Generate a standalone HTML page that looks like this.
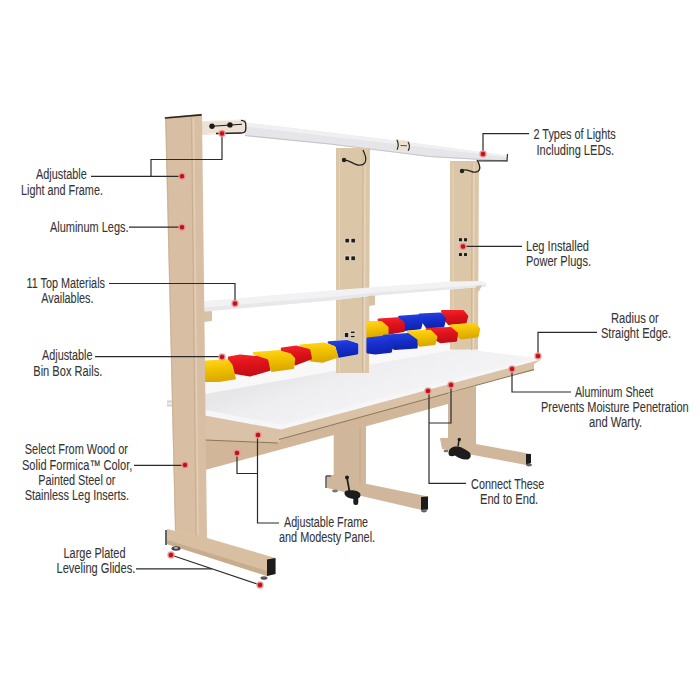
<!DOCTYPE html>
<html><head><meta charset="utf-8">
<style>
html,body{margin:0;padding:0;background:#fff;width:700px;height:700px;overflow:hidden}
svg{display:block}
text{font-family:"Liberation Sans",sans-serif;font-size:14px;fill:#353535;stroke:#353535;stroke-width:0.1px}
</style></head><body>
<svg width="700" height="700" viewBox="0 0 700 700">
<rect width="700" height="700" fill="#fff"/>

<!-- ============ LIGHT BARS ============ -->
<g id="lights">
  <polygon points="245,122.5 330,132.5 430,145 508,155.7 508,161.5 430,157 330,144.5 245,136" fill="#e6e6ea"/>
  <polygon points="245,122.5 330,132.5 430,145 508,155.7 508,157.5 430,148 330,136.5 245,126.5" fill="#f0f0f3"/>
  <polyline points="245,135.5 330,144 430,156.5 508,161" fill="none" stroke="#c4c4ca" stroke-width="1.2"/>
  <path d="M478,160.8 L507,160.8 L507.5,154" fill="none" stroke="#333" stroke-width="1.2"/>
  <!-- connector -->
  <polygon points="396.5,139.5 410,141 410,151 396.5,150" fill="#ede2d2"/>
  <path d="M396.8,139.8 Q399.5,144.5 397,149.8" fill="none" stroke="#222" stroke-width="1.1"/>
  <path d="M408,142 Q410.8,146 408.2,150.7" fill="none" stroke="#222" stroke-width="1.1"/>
  <line x1="400.5" y1="145.5" x2="407" y2="145.8" stroke="#5a4a3a" stroke-width="1"/>
  <!-- bracket -->
  <polygon points="201,121.5 246,119.5 246,133.5 201,135" fill="#ece2d3"/>
  <path d="M209,121 L240.5,120 Q245.5,120 245.5,124.5 L245.5,128.5 Q245.5,132.8 240.5,132.8 L208.5,133.8" fill="none" stroke="#f7f3ec" stroke-width="1"/>
  <path d="M241,120.3 Q245.8,120.5 245.8,124.5 L245.8,129 Q245.8,133 241,133 L216,133.5" fill="none" stroke="#1e1e1e" stroke-width="1.3"/>
  <circle cx="212" cy="126.2" r="2.7" fill="#1a1a1a"/>
  <circle cx="230" cy="124.9" r="2.7" fill="#1a1a1a"/>
  <line x1="212" y1="126.2" x2="242" y2="124.3" stroke="#1a1a1a" stroke-width="1.1"/>
</g>

<!-- ============ WORKTOP ============ -->
<defs>
  <linearGradient id="wtg" gradientUnits="userSpaceOnUse" x1="300" y1="370" x2="320" y2="425">
    <stop offset="0" stop-color="#e7e7ea"/>
    <stop offset="0.35" stop-color="#eeeef0"/>
    <stop offset="1" stop-color="#f3f3f5"/>
  </linearGradient>
</defs>
<g id="worktop">
  <polygon points="205,376 336,349 370,342 450,327 478,325 478,351 541,358.5 541,361 281,430 205,416" fill="#f8f8f9"/>
  <polygon points="205,394 478,345.4 478,351 541,358.5 281,427 205,412" fill="url(#wtg)"/>
  <polygon points="205,410 281,424.5 541,356 541,359 281,428.5 205,414.5" fill="#f6f6f8"/>
</g>

<!-- ============ UPRIGHT LEGS (back) ============ -->
<g id="uprights">
  <!-- middle upright -->
  <polygon points="336,148 370,148 369,373 336,373" fill="#dcc6a8"/>
  <line x1="363" y1="150" x2="362.5" y2="372" stroke="#cdb597" stroke-width="1"/>
  <line x1="365" y1="150" x2="364.5" y2="372" stroke="#e8d7c0" stroke-width="1.3"/>
  <line x1="339.5" y1="150" x2="339.5" y2="372" stroke="#e4d2ba" stroke-width="1"/>
  <!-- right upright -->
  <polygon points="450,161 479,161 478,349.5 450,349.5" fill="#dcc6a8"/>
  <line x1="472" y1="163" x2="471.5" y2="350" stroke="#cdb597" stroke-width="1"/>
  <line x1="474" y1="163" x2="473.5" y2="350" stroke="#e8d7c0" stroke-width="1.3"/>
  <line x1="453" y1="163" x2="453" y2="350" stroke="#e4d2ba" stroke-width="1"/>
  <!-- plugs -->
  <g fill="#1e1a16" stroke="#efe6da" stroke-width="0.7">
    <rect x="345" y="238.3" width="4.3" height="4.6"/><rect x="351" y="238.3" width="4.3" height="4.6"/>
    <rect x="345" y="256" width="4.3" height="4.6"/><rect x="351" y="256" width="4.3" height="4.6"/>
    <rect x="344.4" y="332.6" width="4.3" height="4.8"/><rect x="350.4" y="331.1" width="4.6" height="2.3"/><rect x="350.4" y="335.4" width="4.6" height="2.3"/>
    <rect x="458.5" y="237.8" width="3.8" height="4"/><rect x="463.7" y="237.8" width="3.6" height="4"/>
    <rect x="458.5" y="252.7" width="3.8" height="3.8"/><rect x="463.7" y="252.7" width="3.6" height="3.8"/>
  </g>
  <!-- cables -->
  <path d="M363,150 C368,160 366,166 358,165 C352,164 350,160 344,160" fill="none" stroke="#222" stroke-width="1.3"/>
  <circle cx="344" cy="160" r="2.2" fill="#222"/>
  <path d="M477,160 C482,168 480,173 473,172 C468,171 466,168 462,171" fill="none" stroke="#222" stroke-width="1.3"/>
  <circle cx="462" cy="171" r="2.2" fill="#222"/>
</g>

<!-- ============ SHELVES ============ -->
<g id="shelves">
  <polygon points="204,301 336,290 370,287.5 450,281.5 481,281 486.5,283 486,286.5 370,296 336,300 204,311.5" fill="#f2f2f4"/>
  <polygon points="204,307.5 336,296.5 370,293 486,284.5 486,286.5 370,296 336,300 204,311.5" fill="#e8e8eb"/>
  <polygon points="204,311.5 212,311 212,321 204,322" fill="#d9c1a5"/>
  <polygon points="369,296 375,295.5 375,305 369,306" fill="#d9c1a5"/>
  <polygon points="476,286 482,285.5 479,291 476,292" fill="#d9c1a5"/>
</g>

<!-- ============ BINS ============ -->
<defs>
  <linearGradient id="gR" x1="0" y1="0" x2="0.15" y2="1"><stop offset="0" stop-color="#f2222a"/><stop offset="0.45" stop-color="#e0121a"/><stop offset="1" stop-color="#c40e16"/></linearGradient>
  <linearGradient id="gY" x1="0" y1="0" x2="0.15" y2="1"><stop offset="0" stop-color="#ffd41a"/><stop offset="0.45" stop-color="#f2c200"/><stop offset="1" stop-color="#dcaa00"/></linearGradient>
  <linearGradient id="gB" x1="0" y1="0" x2="0.15" y2="1"><stop offset="0" stop-color="#2440dc"/><stop offset="0.45" stop-color="#1730cf"/><stop offset="1" stop-color="#1024b0"/></linearGradient>
</defs>
<g id="bins" stroke-linejoin="round" stroke-width="2.4">
  <polygon points="442.2,311.1 462.8,311.1 467.1,316.2 465.5,322.3 449,324 444.8,319" fill="url(#gR)" stroke="url(#gR)"/>
  <polygon points="419.9,314.6 440.5,313.7 445,319 443.2,326.3 426.8,327 423.3,322" fill="url(#gB)" stroke="url(#gB)"/>
  <polygon points="399.3,317 419.9,315.4 422.2,320 420.2,328 405.3,329.9 401.9,324.7" fill="url(#gB)" stroke="url(#gB)"/>
  <polygon points="378.7,319.7 397.6,318.5 403.5,323 403.6,330.9 389,333.4 383.9,330" fill="url(#gR)" stroke="url(#gR)"/>
  <polygon points="367.6,322.3 381.3,322.3 387.3,327.4 387.3,334.3 375.3,336.9 367.6,336.9" fill="url(#gY)" stroke="url(#gY)"/>
  <polygon points="450.8,325.7 474.8,324 479,329 477.4,336.2 461,338.2 456,333.6" fill="url(#gY)" stroke="url(#gY)"/>
  <polygon points="426.8,329.2 450.8,328.3 456.8,333.4 455.9,340.5 440.5,342 434,338" fill="url(#gR)" stroke="url(#gR)"/>
  <polygon points="407.9,331.7 430.2,330.9 436.2,336.9 434.5,343.7 419.9,345.5 413.5,341.3" fill="url(#gY)" stroke="url(#gY)"/>
  <polygon points="383.9,336 407.9,334.3 416.3,340.2 416.5,347.2 395,348.9 389,344.6" fill="url(#gB)" stroke="url(#gB)"/>
  <polygon points="367.6,338.6 383,336.9 392.4,344.6 390.7,351.5 375.3,353.2 367.6,352.3" fill="url(#gB)" stroke="url(#gB)"/>
  <g transform="translate(0,0.8)">
  <polygon points="328.8,341.6 346.8,340.3 357.1,343.5 357.1,352.5 339.1,355.7 336.6,345.4" fill="#1730cf" stroke="#e8ebfa" stroke-width="3"/>
  <polygon points="328.8,341.6 346.8,340.3 357.1,343.5 357.1,352.5 339.1,355.7 336.6,345.4" fill="url(#gB)" stroke="url(#gB)"/>
  <polygon points="300.6,344.8 323.7,342.9 334,346 337.2,355.7 322.4,360.8 310.8,359.6 309.6,349.3" fill="url(#gY)" stroke="url(#gY)"/>
  <polygon points="282,348 296.7,346 309,349.3 310.8,357.6 295.4,363.4 292.2,355.7 282,352.5" fill="url(#gR)" stroke="url(#gR)"/>
  <polygon points="254,352.5 279,350.5 290,353.5 294,358 293,367 272,370 269,364 266,358" fill="url(#gY)" stroke="url(#gY)"/>
  <polygon points="229,357 240,355 258,356.5 267,359.5 269,369 250,374.5 235,372 230,364" fill="url(#gR)" stroke="url(#gR)"/>
  <polygon points="205,360.8 227.6,359.6 231.5,364.7 234.7,377.6 219,380 205,380" fill="url(#gY)" stroke="url(#gY)"/>
  </g>
</g>

<!-- ============ FRAME UNDER WORKTOP ============ -->
<g id="frame">
  <!-- side apron -->
  <polygon points="205,415.5 281,429.5 281,439 278,443 205,440" fill="#dac2a8"/>
  <!-- front apron -->
  <polygon points="281,429.5 541,359.5 534,364 534,369 281,439" fill="#dac2a6"/>
  <!-- modesty panel / lower apron -->
  <polygon points="205,440 278,443 281,439 534,369 534,370.5 476,384.5 448,404 205,470" fill="#d1b699"/>
  <line x1="279" y1="439.5" x2="534" y2="369.5" stroke="#8c7458" stroke-width="1"/>
  <line x1="205" y1="440" x2="278" y2="443" stroke="#8c7458" stroke-width="1"/>
</g>

<!-- ============ LOWER LEGS ============ -->
<g id="lowerlegs">
  <!-- right lower leg -->
  <polygon points="448,393 476,386 476,444 531,454 531,463 526,465 442,449 440,438 448,438" fill="#d0b79b"/>
  <polygon points="526,454 531,454 531,463 526,465" fill="#1c1c1c"/>
  <!-- middle lower leg -->
  <polygon points="333.7,434 366,425 366,483.8 428,496.6 428,509.5 419.5,509.5 327,488 326,475 333.7,475" fill="#d0b79b"/>
  <line x1="360" y1="427" x2="360" y2="485" stroke="#c4a985" stroke-width="1"/>
  <polygon points="421,497 428,496.6 428,509.5 421,510" fill="#1c1c1c"/>
  <path d="M326,476 L331,476 M326,476 L326,488" stroke="#333" stroke-width="1.2" fill="none"/>
  <!-- knobs -->
  <g fill="#1c1c1c">
  <circle cx="347" cy="477.5" r="2"/>
  <path d="M347,478 L349.5,491.5" stroke="#1c1c1c" stroke-width="1.7" fill="none"/>
  <path d="M344.5,493.5 C344,490.5 348,489.8 351,490.3 C355,490.3 360.5,491.5 360.5,495 C360.5,498 357,499.5 354,499 C350,498.5 345,497 344.5,493.5 Z"/>
  <rect x="353.3" y="496.5" width="5" height="8.5" rx="2.2"/>
  <circle cx="459.3" cy="439.5" r="1.7"/>
  <path d="M459,440 L458,446.5" stroke="#1c1c1c" stroke-width="1.5" fill="none"/>
  <path d="M448.5,452.5 C449,447.5 454,446 458,446.5 C462,447 466,450 469,452 C471.8,454 471.3,458.8 467.5,459.5 C463,460.2 458,457.5 455,455.5 C452,457 448,456.5 448.5,452.5 Z"/>
  </g>
  <ellipse cx="335" cy="491" rx="3" ry="1.4" fill="#777"/>
  <ellipse cx="424" cy="511" rx="3" ry="1.4" fill="#666"/>
  <ellipse cx="529" cy="465" rx="3" ry="1.4" fill="#666"/>
  <ellipse cx="446" cy="451" rx="2.5" ry="1.2" fill="#777"/>
</g>

<!-- ============ LEFT UPRIGHT + FOOT ============ -->
<g id="leftleg">
  <rect x="167" y="400.5" width="6" height="6" fill="#d2d2d8"/><rect x="167.5" y="402.5" width="5" height="2" fill="#f0f0f2"/>
  <polygon points="165,117 202,114 207,539 175,531" fill="#d8bea3"/>
  <line x1="191.5" y1="118" x2="196" y2="535" stroke="#c8ad90" stroke-width="1"/>
  <line x1="193.5" y1="118" x2="198" y2="535" stroke="#e2cdb6" stroke-width="1.6"/>
  <line x1="166" y1="118" x2="175.5" y2="530" stroke="#c9ae92" stroke-width="0.8"/>
  <line x1="165.5" y1="118" x2="201" y2="114.8" stroke="#2a2420" stroke-width="1.7" stroke-linecap="round"/>
  <polygon points="167,529 207,538 275.5,558 275.5,574 267,576 167,544" fill="#d9bfa2"/>
  <polygon points="167,540 267,571 267,576 167,544" fill="#c8ac8e"/>
  <polygon points="267,559.5 275.5,558 275.5,574 267,576" fill="#1c1c1c"/>
  <line x1="166" y1="530" x2="166" y2="545" stroke="#333" stroke-width="1.5"/>
  <ellipse cx="176" cy="548.5" rx="4.5" ry="2.2" fill="#444"/><ellipse cx="176" cy="548" rx="2" ry="1" fill="#bbb"/>
  <ellipse cx="264" cy="578" rx="3.5" ry="1.8" fill="#555"/>
</g>

<!-- ============ CALLOUTS ============ -->
<g fill="none" stroke="#2a2a2a" stroke-width="1.2">
  <polyline points="91,176.3 182,176.3"/>
  <polyline points="151,176.3 151,159.5 222,159.5 222,133.4"/>
  <polyline points="129,227.2 182,227.2"/>
  <polyline points="109,283.5 235,283.5 235,303.5"/>
  <polyline points="95,356.7 222,356.7"/>
  <polyline points="134,465.3 185,465.3"/>
  <polyline points="136,568.8 212,568.8"/>
  <polyline points="171,555 260,585"/>
  <polyline points="529,133.7 483,133.7 483,154"/>
  <polyline points="522,246.3 463,246.3"/>
  <polyline points="597,332.3 538,332.3 538,356"/>
  <polyline points="571,392 512,392 512,369"/>
  <polyline points="279,523 257.5,523 257.5,435"/>
  <polyline points="257.5,473.5 237,473.5 237,453"/>
  <polyline points="466,483.3 429,483.3 429,391"/>
  <polyline points="429,423 451,423 451,385"/>
</g>
<g fill="#bb141b" stroke="#f09a9a" stroke-width="1.5" stroke-opacity="0.85">
  <circle cx="182" cy="176.3" r="3"/><circle cx="222" cy="133.4" r="3"/>
  <circle cx="182" cy="227.2" r="3"/><circle cx="235" cy="303.5" r="3"/>
  <circle cx="222" cy="357" r="3"/><circle cx="185" cy="465" r="3"/>
  <circle cx="171" cy="555" r="3"/><circle cx="260" cy="585" r="3"/>
  <circle cx="483" cy="154" r="3"/><circle cx="463" cy="246.5" r="3"/>
  <circle cx="538" cy="356" r="3"/><circle cx="512" cy="369" r="3"/>
  <circle cx="258" cy="435" r="3"/><circle cx="237" cy="453" r="3"/>
  <circle cx="428" cy="391" r="3"/><circle cx="451" cy="385" r="3"/>
</g>

<!-- ============ TEXT ============ -->
<g>
  <text x="36.00" y="178.6" textLength="50.81" lengthAdjust="spacingAndGlyphs">Adjustable</text>
  <text x="21.00" y="194.7" textLength="81.93" lengthAdjust="spacingAndGlyphs">Light and Frame.</text>
  <text x="50.00" y="232" textLength="78.49" lengthAdjust="spacingAndGlyphs">Aluminum Legs.</text>
  <text x="26.50" y="287.5" textLength="78.48" lengthAdjust="spacingAndGlyphs">11 Top Materials</text>
  <text x="41.25" y="303" textLength="52.27" lengthAdjust="spacingAndGlyphs">Availables.</text>
  <text x="42.00" y="360" textLength="50.51" lengthAdjust="spacingAndGlyphs">Adjustable</text>
  <text x="33.25" y="375.7" textLength="69.04" lengthAdjust="spacingAndGlyphs">Bin Box Rails.</text>
  <text x="24.75" y="453.7" textLength="103.24" lengthAdjust="spacingAndGlyphs">Select From Wood or</text>
  <text x="22.00" y="469.5" textLength="110.26" lengthAdjust="spacingAndGlyphs">Solid Formica™ Color,</text>
  <text x="38.25" y="484.5" textLength="77.24" lengthAdjust="spacingAndGlyphs">Painted Steel or</text>
  <text x="24.75" y="500" textLength="104.24" lengthAdjust="spacingAndGlyphs">Stainless Leg Inserts.</text>
  <text x="63.50" y="558" textLength="62.02" lengthAdjust="spacingAndGlyphs">Large Plated</text>
  <text x="56.50" y="573.2" textLength="78.78" lengthAdjust="spacingAndGlyphs">Leveling Glides.</text>
  <text x="533.45" y="138.7" textLength="82.25" lengthAdjust="spacingAndGlyphs">2 Types of Lights</text>
  <text x="536.50" y="154.5" textLength="77.50" lengthAdjust="spacingAndGlyphs">Including LEDs.</text>
  <text x="526.00" y="250.5" textLength="63.00" lengthAdjust="spacingAndGlyphs">Leg Installed</text>
  <text x="526.00" y="265.5" textLength="65.00" lengthAdjust="spacingAndGlyphs">Power Plugs.</text>
  <text x="611.00" y="322.9" textLength="47.76" lengthAdjust="spacingAndGlyphs">Radius or</text>
  <text x="601.00" y="338" textLength="70.00" lengthAdjust="spacingAndGlyphs">Straight Edge.</text>
  <text x="575.00" y="396.6" textLength="78.30" lengthAdjust="spacingAndGlyphs">Aluminum Sheet</text>
  <text x="541.00" y="412" textLength="147.61" lengthAdjust="spacingAndGlyphs">Prevents Moisture Penetration</text>
  <text x="589.00" y="427" textLength="53.07" lengthAdjust="spacingAndGlyphs">and Warty.</text>
  <text x="284.00" y="526.7" textLength="84.09" lengthAdjust="spacingAndGlyphs">Adjustable Frame</text>
  <text x="279.00" y="542" textLength="96.11" lengthAdjust="spacingAndGlyphs">and Modesty Panel.</text>
  <text x="471.10" y="488.9" textLength="73.11" lengthAdjust="spacingAndGlyphs">Connect These</text>
  <text x="480.00" y="503.9" textLength="58.22" lengthAdjust="spacingAndGlyphs">End to End.</text>
</g>
</svg>
</body></html>
